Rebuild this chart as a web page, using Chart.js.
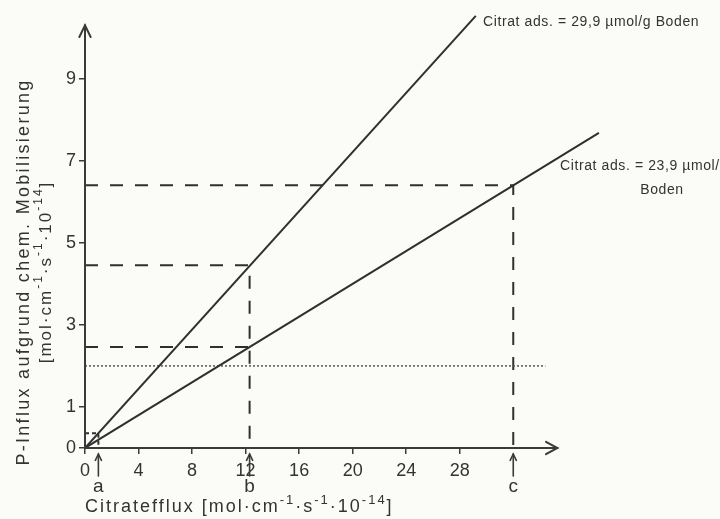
<!DOCTYPE html>
<html>
<head>
<meta charset="utf-8">
<script src="https://cdn.jsdelivr.net/npm/chart.js@4/dist/chart.umd.min.js"></script>
<style>
  html, body { margin: 0; padding: 0; background: #fbfbf7; }
  canvas { display: block; }
</style>
</head>
<body>
<canvas id="c" width="720" height="519"></canvas>
<script>
// Citrate efflux (x) against P influx from chemical mobilisation (y)
const xTicks = [0, 4, 8, 12, 16, 20, 24, 28];
const yTicks = [0, 1, 3, 5, 7, 9];

// straight lines for the two citrate adsorption levels (end points)
const highAdsX = [0, 29.2];
const highAdsY = [0, 10.53];
const lowAdsX = [0, 38.4];
const lowAdsY = [0, 7.68];

const markNames = ['a', 'b', 'c'];
const markX = [1, 12.3, 32];
const markHighY = [0.36, 4.45, null];
const markLowY = [null, 2.46, 6.4];

// dotted threshold level
const thresholdY = 2.0;
const thresholdEndX = 34.4;

// axis arrow tips
const xAxisEnd = 35.3;
const yAxisEnd = 10.3;

const ink = '#2f2f2f';
const family = '"Liberation Sans", Arial, sans-serif';

function pts(xs, ys) { return xs.map((v, i) => ({ x: v, y: ys[i] })); }

function lineSet(data, extra) {
  return Object.assign({
    data, showLine: true, fill: false, tension: 0,
    pointRadius: 0, pointHoverRadius: 0,
    borderColor: ink, borderWidth: 2
  }, extra || {});
}

const datasets = [
  lineSet(pts(highAdsX, highAdsY)),
  lineSet(pts(lowAdsX, lowAdsY)),
  lineSet([{ x: 0, y: thresholdY }, { x: thresholdEndX, y: thresholdY }],
          { borderWidth: 1.5, borderDash: [2, 2], borderColor: '#555' })
];

// dashed read-off guides: horizontal from the y axis, vertical down to the x axis
markX.forEach((mx, i) => {
  const levels = [markHighY[i], markLowY[i]].filter(v => v !== null);
  const top = Math.max(...levels);
  const dash = mx < 2 ? [4, 3] : [13, 12];
  levels.forEach(ly => {
    const path = ly === top
      ? [{ x: 0, y: ly }, { x: mx, y: ly }, { x: mx, y: 0 }]
      : [{ x: 0, y: ly }, { x: mx, y: ly }];
    datasets.push(lineSet(path, { borderDash: dash, borderWidth: 2 }));
  });
});

function fontOf(size) { return size + 'px ' + family; }

function richWidth(ctx, parts, size) {
  let w = 0;
  parts.forEach(([t, sup]) => {
    ctx.font = fontOf(sup ? Math.round(size * 0.7) : size);
    w += ctx.measureText(t).width;
  });
  return w;
}

function drawRich(ctx, parts, x, y, size) {
  let cx = x;
  parts.forEach(([t, sup]) => {
    const s = sup ? Math.round(size * 0.7) : size;
    ctx.font = fontOf(s);
    ctx.fillText(t, cx, sup ? y - size * 0.42 : y);
    cx += ctx.measureText(t).width;
  });
}

function arrowHead(ctx, tx, ty, angle, len, spread) {
  ctx.beginPath();
  ctx.moveTo(tx + len * Math.cos(angle + spread), ty + len * Math.sin(angle + spread));
  ctx.lineTo(tx, ty);
  ctx.lineTo(tx + len * Math.cos(angle - spread), ty + len * Math.sin(angle - spread));
  ctx.stroke();
}

const unitParts = [['[mol·cm', false], ['-1', true], ['·s', false], ['-1', true],
                   ['·10', false], ['-14', true], [']', false]];

const decorations = {
  id: 'decorations',
  afterDatasetsDraw(chart) {
    const { ctx, scales: { x, y } } = chart;
    const x0 = x.getPixelForValue(0), y0 = y.getPixelForValue(0);
    ctx.save();
    ctx.strokeStyle = '#3a3a3a';
    ctx.fillStyle = '#333';
    ctx.lineWidth = 2;
    ctx.lineCap = 'round';

    // axes with open arrow heads
    const xe = x.getPixelForValue(xAxisEnd), ye = y.getPixelForValue(yAxisEnd);
    ctx.beginPath();
    ctx.moveTo(x0, y0); ctx.lineTo(xe, y0);
    ctx.moveTo(x0, y0); ctx.lineTo(x0, ye);
    ctx.stroke();
    arrowHead(ctx, xe, y0, Math.PI, 13, 0.5);
    arrowHead(ctx, x0, ye, Math.PI / 2, 13, 0.45);

    // arrows and letters below the x axis
    ctx.lineWidth = 1.6;
    ctx.textAlign = 'center';
    ctx.textBaseline = 'alphabetic';
    markX.forEach((mx, i) => {
      const px = x.getPixelForValue(mx);
      ctx.beginPath();
      ctx.moveTo(px, y0 + 28); ctx.lineTo(px, y0 + 6);
      ctx.stroke();
      arrowHead(ctx, px, y0 + 6, Math.PI / 2, 7, 0.45);
      ctx.font = fontOf(19);
      ctx.fillText(markNames[i], px, y0 + 44);
    });

    // x axis title
    ctx.textAlign = 'left';
    ctx.letterSpacing = '2px';
    drawRich(ctx, [['Citratefflux ', false]].concat(unitParts), x0, 512, 18);

    // y axis title (two rotated lines)
    ctx.save();
    ctx.translate(24, 272);
    ctx.rotate(-Math.PI / 2);
    ctx.textAlign = 'center';
    ctx.textBaseline = 'middle';
    ctx.font = fontOf(18);
    ctx.letterSpacing = '2.3px';
    ctx.fillText('P-Influx aufgrund chem. Mobilisierung', 0, 0);
    ctx.restore();

    ctx.save();
    ctx.translate(46, 272);
    ctx.rotate(-Math.PI / 2);
    ctx.textAlign = 'left';
    ctx.textBaseline = 'middle';
    ctx.letterSpacing = '2px';
    const w = richWidth(ctx, unitParts, 17);
    drawRich(ctx, unitParts, -w / 2, 0, 17);
    ctx.restore();

    // line annotations
    ctx.letterSpacing = '0.6px';
    ctx.textBaseline = 'middle';
    ctx.font = fontOf(14);
    ctx.textAlign = 'left';
    ctx.fillText('Citrat ads. = 29,9 µmol/g Boden', 483, 22);
    ctx.fillText('Citrat ads. = 23,9 µmol/g', 560, 166);
    ctx.textAlign = 'center';
    ctx.fillText('Boden', 662, 190);

    ctx.restore();
  }
};

new Chart(document.getElementById('c'), {
  type: 'scatter',
  data: { datasets },
  options: {
    responsive: false,
    devicePixelRatio: 1,
    animation: false,
    events: [],
    layout: { padding: { top: 0, right: 6, left: 0, bottom: 0 } },
    plugins: { legend: { display: false }, tooltip: { enabled: false } },
    scales: {
      x: {
        type: 'linear', min: 0, max: 47,
        afterBuildTicks: s => { s.ticks = xTicks.map(v => ({ value: v })); },
        afterFit: s => { s.height = 71; },
        grid: { drawOnChartArea: false, drawTicks: true, tickLength: 6, color: '#3a3a3a', lineWidth: 1.5 },
        border: { display: false },
        ticks: { autoSkip: false, maxRotation: 0, padding: 6, color: '#333',
                 font: { family, size: 18 } }
      },
      y: {
        type: 'linear', min: 0, max: 10.58,
        afterBuildTicks: s => { s.ticks = yTicks.map(v => ({ value: v })); },
        afterFit: s => { s.width = 85; },
        grid: { drawOnChartArea: false, drawTicks: true, tickLength: 6, color: '#3a3a3a', lineWidth: 1.5 },
        border: { display: false },
        ticks: { autoSkip: false, padding: 3, color: '#333',
                 font: { family, size: 18 } }
      }
    }
  },
  plugins: [decorations]
});
</script>
</body>
</html>
